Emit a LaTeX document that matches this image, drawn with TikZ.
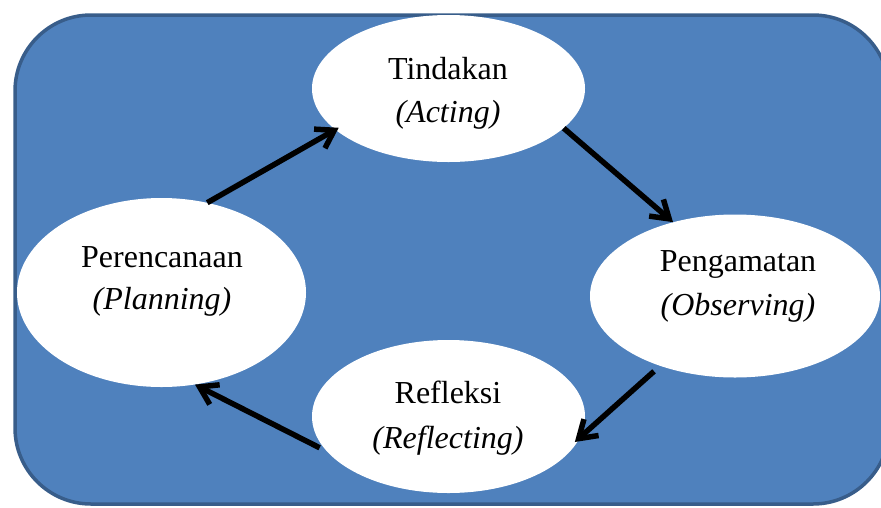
\documentclass[tikz,border=0pt]{standalone}
\usepackage{fontspec}
\setmainfont{Liberation Serif}
\usetikzlibrary{arrows.meta,shapes.geometric}
\definecolor{boxfill}{HTML}{4F81BD}
\definecolor{boxline}{HTML}{385D8A}
\tikzset{
  bubble/.style={ellipse, fill=white, draw=none, inner sep=0pt},
  label/.style={anchor=base, inner sep=0pt, font=\fontsize{32}{40}\selectfont},
  cyclearrow/.style={draw=black, line width=5.5pt,
    -{Straight Barb[length=17pt,width=22pt,line width=5.5pt]}},
}
\begin{document}
\begin{tikzpicture}[x=1pt,y=-1pt]
\useasboundingbox (0,0) rectangle (881,507);
\clip (0,0) rectangle (881,507);
\draw[fill=boxfill, draw=boxline, line width=3.5pt, rounded corners=76pt] (15,15) rectangle (889,504);

\node[bubble, minimum width=273pt, minimum height=147pt] (act) at (448.5,88.5) {};
\node[bubble, minimum width=289pt, minimum height=189pt] (per) at (161.5,292.5) {};
\node[bubble, minimum width=290pt, minimum height=163pt] (obs) at (735,296) {};
\node[bubble, minimum width=273pt, minimum height=153pt] (ref) at (448.5,416.5) {};

\node[label] (actA) at (448,79) {Tindakan};
\node[label] (actB) at (448,122) {\textit{(Acting)}};
\node[label] (perA) at (162,267) {Perencanaan};
\node[label] (perB) at (162,309) {\textit{(Planning)}};
\node[label] (obsA) at (738,271) {Pengamatan};
\node[label] (obsB) at (738,315) {\textit{(Observing)}};
\node[label] (refA) at (448,403) {Refleksi};
\node[label] (refB) at (448,448) {\textit{(Reflecting)}};

\draw[cyclearrow, shorten >=-4pt] (per.63) -- (act.200);
\draw[cyclearrow] (act.-19) -- (obs.130);
\draw[cyclearrow, shorten <=8pt, shorten >=-7pt] (obs.-137) -- (ref.-9);
\draw[cyclearrow, shorten <=8pt] (ref.-164) -- (per.-70);
\end{tikzpicture}
\end{document}
